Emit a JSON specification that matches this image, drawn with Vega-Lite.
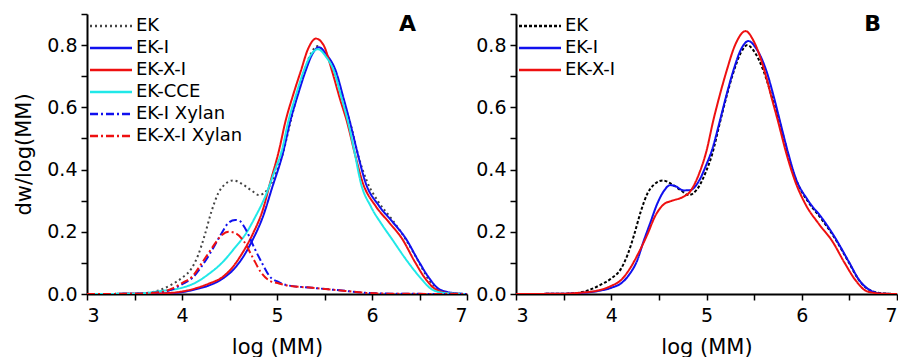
{
  "$schema": "https://vega.github.io/schema/vega-lite/v6.json",
  "padding": {"top": 13, "left": 13, "right": 0, "bottom": 0},
  "background": "white",
  "config": {
    "font": "DejaVu Sans",
    "view": {"stroke": null},
    "axis": {
      "grid": false,
      "domainColor": "black",
      "domainWidth": 2,
      "tickColor": "black",
      "tickWidth": 1.5,
      "tickSize": 6,
      "labelFont": "DejaVu Sans",
      "labelFontSize": 19,
      "labelColor": "black",
      "titleFont": "DejaVu Sans",
      "titleFontSize": 21,
      "titleFontWeight": "normal",
      "titleColor": "black"
    },
    "legend": {
      "labelFont": "DejaVu Sans",
      "labelFontSize": 18,
      "labelColor": "black",
      "symbolType": "M-2.5,0H2.5",
      "symbolSize": 282,
      "symbolStrokeWidth": 2.5,
      "labelOffset": 15,
      "rowPadding": 3,
      "padding": 0,
      "title": null
    },
    "concat": {"spacing": 7}
  },
  "datasets": {
    "A": [
      {"x": 3.0, "y": 0, "s": "EK"}, {"x": 3.5, "y": 0.001, "s": "EK"}, {"x": 3.63, "y": 0.003, "s": "EK"}, {"x": 3.76, "y": 0.012, "s": "EK"}, {"x": 3.89, "y": 0.03, "s": "EK"}, {"x": 4.0, "y": 0.052, "s": "EK"}, {"x": 4.1, "y": 0.082, "s": "EK"}, {"x": 4.17, "y": 0.125, "s": "EK"}, {"x": 4.24, "y": 0.19, "s": "EK"}, {"x": 4.31, "y": 0.265, "s": "EK"}, {"x": 4.38, "y": 0.323, "s": "EK"}, {"x": 4.45, "y": 0.352, "s": "EK"}, {"x": 4.54, "y": 0.365, "s": "EK"}, {"x": 4.64, "y": 0.352, "s": "EK"}, {"x": 4.74, "y": 0.331, "s": "EK"}, {"x": 4.81, "y": 0.318, "s": "EK"}, {"x": 4.9, "y": 0.336, "s": "EK"}, {"x": 4.99, "y": 0.39, "s": "EK"}, {"x": 5.06, "y": 0.45, "s": "EK"}, {"x": 5.14, "y": 0.55, "s": "EK"}, {"x": 5.21, "y": 0.635, "s": "EK"}, {"x": 5.28, "y": 0.71, "s": "EK"}, {"x": 5.36, "y": 0.775, "s": "EK"}, {"x": 5.43, "y": 0.797, "s": "EK"}, {"x": 5.5, "y": 0.775, "s": "EK"}, {"x": 5.6, "y": 0.716, "s": "EK"}, {"x": 5.7, "y": 0.62, "s": "EK"}, {"x": 5.78, "y": 0.54, "s": "EK"}, {"x": 5.86, "y": 0.44, "s": "EK"}, {"x": 5.95, "y": 0.36, "s": "EK"}, {"x": 6.07, "y": 0.295, "s": "EK"}, {"x": 6.21, "y": 0.24, "s": "EK"}, {"x": 6.35, "y": 0.178, "s": "EK"}, {"x": 6.49, "y": 0.104, "s": "EK"}, {"x": 6.6, "y": 0.045, "s": "EK"}, {"x": 6.71, "y": 0.013, "s": "EK"}, {"x": 6.85, "y": 0.002, "s": "EK"}, {"x": 7.0, "y": 0, "s": "EK"},

      {"x": 3.0, "y": 0, "s": "EK-I"}, {"x": 3.65, "y": 0.001, "s": "EK-I"}, {"x": 3.9, "y": 0.003, "s": "EK-I"}, {"x": 4.0, "y": 0.006, "s": "EK-I"}, {"x": 4.14, "y": 0.015, "s": "EK-I"}, {"x": 4.28, "y": 0.027, "s": "EK-I"}, {"x": 4.42, "y": 0.048, "s": "EK-I"}, {"x": 4.53, "y": 0.075, "s": "EK-I"}, {"x": 4.63, "y": 0.113, "s": "EK-I"}, {"x": 4.74, "y": 0.172, "s": "EK-I"}, {"x": 4.85, "y": 0.247, "s": "EK-I"}, {"x": 4.95, "y": 0.343, "s": "EK-I"}, {"x": 5.06, "y": 0.45, "s": "EK-I"}, {"x": 5.14, "y": 0.556, "s": "EK-I"}, {"x": 5.22, "y": 0.64, "s": "EK-I"}, {"x": 5.3, "y": 0.716, "s": "EK-I"}, {"x": 5.37, "y": 0.77, "s": "EK-I"}, {"x": 5.44, "y": 0.793, "s": "EK-I"}, {"x": 5.52, "y": 0.77, "s": "EK-I"}, {"x": 5.62, "y": 0.716, "s": "EK-I"}, {"x": 5.7, "y": 0.63, "s": "EK-I"}, {"x": 5.77, "y": 0.55, "s": "EK-I"}, {"x": 5.85, "y": 0.45, "s": "EK-I"}, {"x": 5.93, "y": 0.36, "s": "EK-I"}, {"x": 6.07, "y": 0.285, "s": "EK-I"}, {"x": 6.21, "y": 0.234, "s": "EK-I"}, {"x": 6.35, "y": 0.181, "s": "EK-I"}, {"x": 6.49, "y": 0.106, "s": "EK-I"}, {"x": 6.6, "y": 0.052, "s": "EK-I"}, {"x": 6.71, "y": 0.015, "s": "EK-I"}, {"x": 6.86, "y": 0.003, "s": "EK-I"}, {"x": 7.0, "y": 0, "s": "EK-I"},

      {"x": 3.0, "y": 0, "s": "EK-X-I"}, {"x": 3.65, "y": 0.001, "s": "EK-X-I"}, {"x": 3.9, "y": 0.004, "s": "EK-X-I"}, {"x": 4.0, "y": 0.008, "s": "EK-X-I"}, {"x": 4.14, "y": 0.018, "s": "EK-X-I"}, {"x": 4.28, "y": 0.033, "s": "EK-X-I"}, {"x": 4.42, "y": 0.053, "s": "EK-X-I"}, {"x": 4.53, "y": 0.085, "s": "EK-X-I"}, {"x": 4.63, "y": 0.129, "s": "EK-X-I"}, {"x": 4.74, "y": 0.19, "s": "EK-X-I"}, {"x": 4.85, "y": 0.27, "s": "EK-X-I"}, {"x": 4.93, "y": 0.36, "s": "EK-X-I"}, {"x": 5.02, "y": 0.46, "s": "EK-X-I"}, {"x": 5.09, "y": 0.556, "s": "EK-X-I"}, {"x": 5.17, "y": 0.64, "s": "EK-X-I"}, {"x": 5.25, "y": 0.716, "s": "EK-X-I"}, {"x": 5.33, "y": 0.79, "s": "EK-X-I"}, {"x": 5.41, "y": 0.821, "s": "EK-X-I"}, {"x": 5.49, "y": 0.8, "s": "EK-X-I"}, {"x": 5.58, "y": 0.716, "s": "EK-X-I"}, {"x": 5.66, "y": 0.63, "s": "EK-X-I"}, {"x": 5.74, "y": 0.55, "s": "EK-X-I"}, {"x": 5.82, "y": 0.45, "s": "EK-X-I"}, {"x": 5.9, "y": 0.36, "s": "EK-X-I"}, {"x": 6.04, "y": 0.282, "s": "EK-X-I"}, {"x": 6.18, "y": 0.23, "s": "EK-X-I"}, {"x": 6.32, "y": 0.176, "s": "EK-X-I"}, {"x": 6.45, "y": 0.104, "s": "EK-X-I"}, {"x": 6.56, "y": 0.05, "s": "EK-X-I"}, {"x": 6.67, "y": 0.015, "s": "EK-X-I"}, {"x": 6.82, "y": 0.002, "s": "EK-X-I"}, {"x": 7.0, "y": 0, "s": "EK-X-I"},

      {"x": 3.0, "y": 0, "s": "EK-CCE"}, {"x": 3.5, "y": 0.001, "s": "EK-CCE"}, {"x": 3.79, "y": 0.01, "s": "EK-CCE"}, {"x": 4.0, "y": 0.02, "s": "EK-CCE"}, {"x": 4.14, "y": 0.036, "s": "EK-CCE"}, {"x": 4.28, "y": 0.064, "s": "EK-CCE"}, {"x": 4.42, "y": 0.1, "s": "EK-CCE"}, {"x": 4.56, "y": 0.15, "s": "EK-CCE"}, {"x": 4.67, "y": 0.193, "s": "EK-CCE"}, {"x": 4.77, "y": 0.247, "s": "EK-CCE"}, {"x": 4.88, "y": 0.316, "s": "EK-CCE"}, {"x": 4.98, "y": 0.4, "s": "EK-CCE"}, {"x": 5.05, "y": 0.46, "s": "EK-CCE"}, {"x": 5.12, "y": 0.556, "s": "EK-CCE"}, {"x": 5.2, "y": 0.64, "s": "EK-CCE"}, {"x": 5.28, "y": 0.716, "s": "EK-CCE"}, {"x": 5.36, "y": 0.77, "s": "EK-CCE"}, {"x": 5.43, "y": 0.787, "s": "EK-CCE"}, {"x": 5.51, "y": 0.765, "s": "EK-CCE"}, {"x": 5.6, "y": 0.716, "s": "EK-CCE"}, {"x": 5.68, "y": 0.63, "s": "EK-CCE"}, {"x": 5.75, "y": 0.55, "s": "EK-CCE"}, {"x": 5.82, "y": 0.45, "s": "EK-CCE"}, {"x": 5.88, "y": 0.36, "s": "EK-CCE"}, {"x": 5.99, "y": 0.28, "s": "EK-CCE"}, {"x": 6.1, "y": 0.225, "s": "EK-CCE"}, {"x": 6.2, "y": 0.181, "s": "EK-CCE"}, {"x": 6.37, "y": 0.106, "s": "EK-CCE"}, {"x": 6.51, "y": 0.052, "s": "EK-CCE"}, {"x": 6.63, "y": 0.015, "s": "EK-CCE"}, {"x": 6.77, "y": 0.003, "s": "EK-CCE"}, {"x": 7.0, "y": 0, "s": "EK-CCE"},

      {"x": 3.0, "y": 0, "s": "EK-I Xylan"}, {"x": 3.5, "y": 0.001, "s": "EK-I Xylan"}, {"x": 3.79, "y": 0.006, "s": "EK-I Xylan"}, {"x": 3.9, "y": 0.015, "s": "EK-I Xylan"}, {"x": 4.0, "y": 0.031, "s": "EK-I Xylan"}, {"x": 4.11, "y": 0.052, "s": "EK-I Xylan"}, {"x": 4.21, "y": 0.09, "s": "EK-I Xylan"}, {"x": 4.32, "y": 0.143, "s": "EK-I Xylan"}, {"x": 4.42, "y": 0.197, "s": "EK-I Xylan"}, {"x": 4.49, "y": 0.229, "s": "EK-I Xylan"}, {"x": 4.56, "y": 0.238, "s": "EK-I Xylan"}, {"x": 4.61, "y": 0.234, "s": "EK-I Xylan"}, {"x": 4.67, "y": 0.208, "s": "EK-I Xylan"}, {"x": 4.76, "y": 0.149, "s": "EK-I Xylan"}, {"x": 4.85, "y": 0.095, "s": "EK-I Xylan"}, {"x": 4.92, "y": 0.058, "s": "EK-I Xylan"}, {"x": 5.02, "y": 0.038, "s": "EK-I Xylan"}, {"x": 5.11, "y": 0.028, "s": "EK-I Xylan"}, {"x": 5.37, "y": 0.02, "s": "EK-I Xylan"}, {"x": 5.72, "y": 0.01, "s": "EK-I Xylan"}, {"x": 5.93, "y": 0.004, "s": "EK-I Xylan"}, {"x": 6.2, "y": 0.001, "s": "EK-I Xylan"}, {"x": 7.0, "y": 0, "s": "EK-I Xylan"},

      {"x": 3.0, "y": 0, "s": "EK-X-I Xylan"}, {"x": 3.5, "y": 0.001, "s": "EK-X-I Xylan"}, {"x": 3.79, "y": 0.007, "s": "EK-X-I Xylan"}, {"x": 3.9, "y": 0.018, "s": "EK-X-I Xylan"}, {"x": 4.0, "y": 0.035, "s": "EK-X-I Xylan"}, {"x": 4.11, "y": 0.057, "s": "EK-X-I Xylan"}, {"x": 4.21, "y": 0.1, "s": "EK-X-I Xylan"}, {"x": 4.32, "y": 0.15, "s": "EK-X-I Xylan"}, {"x": 4.42, "y": 0.19, "s": "EK-X-I Xylan"}, {"x": 4.49, "y": 0.2, "s": "EK-X-I Xylan"}, {"x": 4.56, "y": 0.196, "s": "EK-X-I Xylan"}, {"x": 4.65, "y": 0.17, "s": "EK-X-I Xylan"}, {"x": 4.74, "y": 0.12, "s": "EK-X-I Xylan"}, {"x": 4.83, "y": 0.07, "s": "EK-X-I Xylan"}, {"x": 4.92, "y": 0.043, "s": "EK-X-I Xylan"}, {"x": 5.02, "y": 0.034, "s": "EK-X-I Xylan"}, {"x": 5.11, "y": 0.027, "s": "EK-X-I Xylan"}, {"x": 5.37, "y": 0.02, "s": "EK-X-I Xylan"}, {"x": 5.72, "y": 0.01, "s": "EK-X-I Xylan"}, {"x": 5.93, "y": 0.004, "s": "EK-X-I Xylan"}, {"x": 6.2, "y": 0.001, "s": "EK-X-I Xylan"}, {"x": 7.0, "y": 0, "s": "EK-X-I Xylan"}
    ],
    "B": [
      {"x": 3.0, "y": 0, "s": "EK"}, {"x": 3.5, "y": 0.001, "s": "EK"}, {"x": 3.63, "y": 0.003, "s": "EK"}, {"x": 3.76, "y": 0.012, "s": "EK"}, {"x": 3.89, "y": 0.03, "s": "EK"}, {"x": 4.0, "y": 0.05, "s": "EK"}, {"x": 4.1, "y": 0.08, "s": "EK"}, {"x": 4.17, "y": 0.125, "s": "EK"}, {"x": 4.24, "y": 0.19, "s": "EK"}, {"x": 4.31, "y": 0.265, "s": "EK"}, {"x": 4.38, "y": 0.323, "s": "EK"}, {"x": 4.45, "y": 0.352, "s": "EK"}, {"x": 4.54, "y": 0.365, "s": "EK"}, {"x": 4.64, "y": 0.352, "s": "EK"}, {"x": 4.74, "y": 0.331, "s": "EK"}, {"x": 4.81, "y": 0.318, "s": "EK"}, {"x": 4.9, "y": 0.336, "s": "EK"}, {"x": 4.99, "y": 0.39, "s": "EK"}, {"x": 5.06, "y": 0.45, "s": "EK"}, {"x": 5.14, "y": 0.55, "s": "EK"}, {"x": 5.21, "y": 0.635, "s": "EK"}, {"x": 5.28, "y": 0.71, "s": "EK"}, {"x": 5.36, "y": 0.775, "s": "EK"}, {"x": 5.43, "y": 0.8, "s": "EK"}, {"x": 5.5, "y": 0.78, "s": "EK"}, {"x": 5.6, "y": 0.716, "s": "EK"}, {"x": 5.7, "y": 0.62, "s": "EK"}, {"x": 5.78, "y": 0.54, "s": "EK"}, {"x": 5.86, "y": 0.44, "s": "EK"}, {"x": 5.95, "y": 0.36, "s": "EK"}, {"x": 6.07, "y": 0.295, "s": "EK"}, {"x": 6.21, "y": 0.24, "s": "EK"}, {"x": 6.35, "y": 0.178, "s": "EK"}, {"x": 6.49, "y": 0.104, "s": "EK"}, {"x": 6.6, "y": 0.045, "s": "EK"}, {"x": 6.71, "y": 0.013, "s": "EK"}, {"x": 6.85, "y": 0.002, "s": "EK"}, {"x": 7.0, "y": 0, "s": "EK"},

      {"x": 3.0, "y": 0, "s": "EK-I"}, {"x": 3.5, "y": 0.001, "s": "EK-I"}, {"x": 3.67, "y": 0.003, "s": "EK-I"}, {"x": 3.87, "y": 0.01, "s": "EK-I"}, {"x": 4.0, "y": 0.02, "s": "EK-I"}, {"x": 4.11, "y": 0.036, "s": "EK-I"}, {"x": 4.19, "y": 0.063, "s": "EK-I"}, {"x": 4.27, "y": 0.106, "s": "EK-I"}, {"x": 4.34, "y": 0.17, "s": "EK-I"}, {"x": 4.41, "y": 0.229, "s": "EK-I"}, {"x": 4.48, "y": 0.288, "s": "EK-I"}, {"x": 4.55, "y": 0.33, "s": "EK-I"}, {"x": 4.62, "y": 0.35, "s": "EK-I"}, {"x": 4.67, "y": 0.347, "s": "EK-I"}, {"x": 4.76, "y": 0.333, "s": "EK-I"}, {"x": 4.83, "y": 0.334, "s": "EK-I"}, {"x": 4.92, "y": 0.363, "s": "EK-I"}, {"x": 5.0, "y": 0.417, "s": "EK-I"}, {"x": 5.06, "y": 0.465, "s": "EK-I"}, {"x": 5.14, "y": 0.556, "s": "EK-I"}, {"x": 5.21, "y": 0.64, "s": "EK-I"}, {"x": 5.28, "y": 0.716, "s": "EK-I"}, {"x": 5.36, "y": 0.785, "s": "EK-I"}, {"x": 5.44, "y": 0.813, "s": "EK-I"}, {"x": 5.52, "y": 0.79, "s": "EK-I"}, {"x": 5.63, "y": 0.716, "s": "EK-I"}, {"x": 5.71, "y": 0.63, "s": "EK-I"}, {"x": 5.78, "y": 0.545, "s": "EK-I"}, {"x": 5.86, "y": 0.45, "s": "EK-I"}, {"x": 5.93, "y": 0.378, "s": "EK-I"}, {"x": 6.07, "y": 0.299, "s": "EK-I"}, {"x": 6.21, "y": 0.245, "s": "EK-I"}, {"x": 6.35, "y": 0.181, "s": "EK-I"}, {"x": 6.49, "y": 0.106, "s": "EK-I"}, {"x": 6.61, "y": 0.042, "s": "EK-I"}, {"x": 6.73, "y": 0.01, "s": "EK-I"}, {"x": 6.85, "y": 0.001, "s": "EK-I"}, {"x": 7.0, "y": 0, "s": "EK-I"},

      {"x": 3.0, "y": 0, "s": "EK-X-I"}, {"x": 3.5, "y": 0.001, "s": "EK-X-I"}, {"x": 3.67, "y": 0.004, "s": "EK-X-I"}, {"x": 3.87, "y": 0.012, "s": "EK-X-I"}, {"x": 4.0, "y": 0.026, "s": "EK-X-I"}, {"x": 4.11, "y": 0.047, "s": "EK-X-I"}, {"x": 4.19, "y": 0.079, "s": "EK-X-I"}, {"x": 4.28, "y": 0.128, "s": "EK-X-I"}, {"x": 4.38, "y": 0.192, "s": "EK-X-I"}, {"x": 4.46, "y": 0.25, "s": "EK-X-I"}, {"x": 4.55, "y": 0.288, "s": "EK-X-I"}, {"x": 4.64, "y": 0.3, "s": "EK-X-I"}, {"x": 4.74, "y": 0.31, "s": "EK-X-I"}, {"x": 4.83, "y": 0.33, "s": "EK-X-I"}, {"x": 4.92, "y": 0.385, "s": "EK-X-I"}, {"x": 5.0, "y": 0.46, "s": "EK-X-I"}, {"x": 5.07, "y": 0.556, "s": "EK-X-I"}, {"x": 5.14, "y": 0.64, "s": "EK-X-I"}, {"x": 5.21, "y": 0.716, "s": "EK-X-I"}, {"x": 5.3, "y": 0.8, "s": "EK-X-I"}, {"x": 5.41, "y": 0.845, "s": "EK-X-I"}, {"x": 5.5, "y": 0.81, "s": "EK-X-I"}, {"x": 5.61, "y": 0.716, "s": "EK-X-I"}, {"x": 5.68, "y": 0.635, "s": "EK-X-I"}, {"x": 5.75, "y": 0.556, "s": "EK-X-I"}, {"x": 5.84, "y": 0.45, "s": "EK-X-I"}, {"x": 5.93, "y": 0.363, "s": "EK-X-I"}, {"x": 6.04, "y": 0.288, "s": "EK-X-I"}, {"x": 6.18, "y": 0.225, "s": "EK-X-I"}, {"x": 6.32, "y": 0.17, "s": "EK-X-I"}, {"x": 6.45, "y": 0.1, "s": "EK-X-I"}, {"x": 6.57, "y": 0.042, "s": "EK-X-I"}, {"x": 6.69, "y": 0.008, "s": "EK-X-I"}, {"x": 6.85, "y": 0.001, "s": "EK-X-I"}, {"x": 7.0, "y": 0, "s": "EK-X-I"}
    ]
  },
  "resolve": {
    "scale": {"color": "independent", "strokeDash": "independent"},
    "legend": {"color": "independent", "strokeDash": "independent"}
  },
  "hconcat": [
    {
      "width": 380,
      "height": 280,
      "data": {"name": "A"},
      "title": {"text": "A", "anchor": "end", "frame": "group", "orient": "top", "offset": -23, "dx": -51, "fontSize": 22, "fontWeight": "bold", "font": "DejaVu Sans", "color": "black"},
      "mark": {"type": "line", "interpolate": "monotone", "strokeWidth": 2, "clip": true},
      "encoding": {
        "x": {"field": "x", "type": "quantitative", "scale": {"domain": [3, 7], "nice": false}, "axis": {"title": "log (MM)", "values": [3, 3.5, 4, 4.5, 5, 5.5, 6, 6.5, 7], "labelExpr": "datum.value % 1 == 0 ? format(datum.value, 'd') : ''", "labelPadding": 6, "titlePadding": 11}},
        "y": {"field": "y", "type": "quantitative", "scale": {"domain": [0, 0.9], "nice": false, "zero": true}, "axis": {"title": "dw/log(MM)", "values": [0, 0.1, 0.2, 0.3, 0.4, 0.5, 0.6, 0.7, 0.8, 0.9], "labelExpr": "round(datum.value * 10) % 2 == 0 && datum.value < 0.85 ? format(datum.value, '.1f') : ''", "labelPadding": 4, "titlePadding": 12}},
        "detail": {"field": "s"},
        "color": {"field": "s", "type": "nominal", "scale": {"domain": ["EK", "EK-I", "EK-X-I", "EK-CCE", "EK-I Xylan", "EK-X-I Xylan"], "range": ["#444444", "#1010ee", "#ee1010", "#20e8e8", "#1010ee", "#ee1010"]}, "legend": {"orient": "none", "legendX": 14, "legendY": 2}},
        "strokeDash": {"field": "s", "type": "nominal", "scale": {"domain": ["EK", "EK-I", "EK-X-I", "EK-CCE", "EK-I Xylan", "EK-X-I Xylan"], "range": [[2, 3], [1, 0], [1, 0], [1, 0], [8, 3, 2, 3], [8, 3, 2, 3]]}, "legend": {"orient": "none", "legendX": 14, "legendY": 2}}
      }
    },
    {
      "width": 381,
      "height": 280,
      "data": {"name": "B"},
      "title": {"text": "B", "anchor": "end", "frame": "group", "orient": "top", "offset": -23, "dx": -16, "fontSize": 22, "fontWeight": "bold", "font": "DejaVu Sans", "color": "black"},
      "mark": {"type": "line", "interpolate": "monotone", "strokeWidth": 2, "clip": true},
      "encoding": {
        "x": {"field": "x", "type": "quantitative", "scale": {"domain": [3, 7], "nice": false}, "axis": {"title": "log (MM)", "values": [3, 3.5, 4, 4.5, 5, 5.5, 6, 6.5, 7], "labelExpr": "datum.value % 1 == 0 ? format(datum.value, 'd') : ''", "labelPadding": 6, "titlePadding": 11}},
        "y": {"field": "y", "type": "quantitative", "scale": {"domain": [0, 0.9], "nice": false, "zero": true}, "axis": {"title": null, "values": [0, 0.1, 0.2, 0.3, 0.4, 0.5, 0.6, 0.7, 0.8, 0.9], "labelExpr": "round(datum.value * 10) % 2 == 0 && datum.value < 0.85 ? format(datum.value, '.1f') : ''", "labelPadding": 4}},
        "detail": {"field": "s"},
        "color": {"field": "s", "type": "nominal", "scale": {"domain": ["EK", "EK-I", "EK-X-I"], "range": ["#000000", "#1010ee", "#ee1010"]}, "legend": {"orient": "none", "legendX": 14, "legendY": 2}},
        "strokeDash": {"field": "s", "type": "nominal", "scale": {"domain": ["EK", "EK-I", "EK-X-I"], "range": [[3, 2], [1, 0], [1, 0]]}, "legend": {"orient": "none", "legendX": 14, "legendY": 2}}
      }
    }
  ]
}
